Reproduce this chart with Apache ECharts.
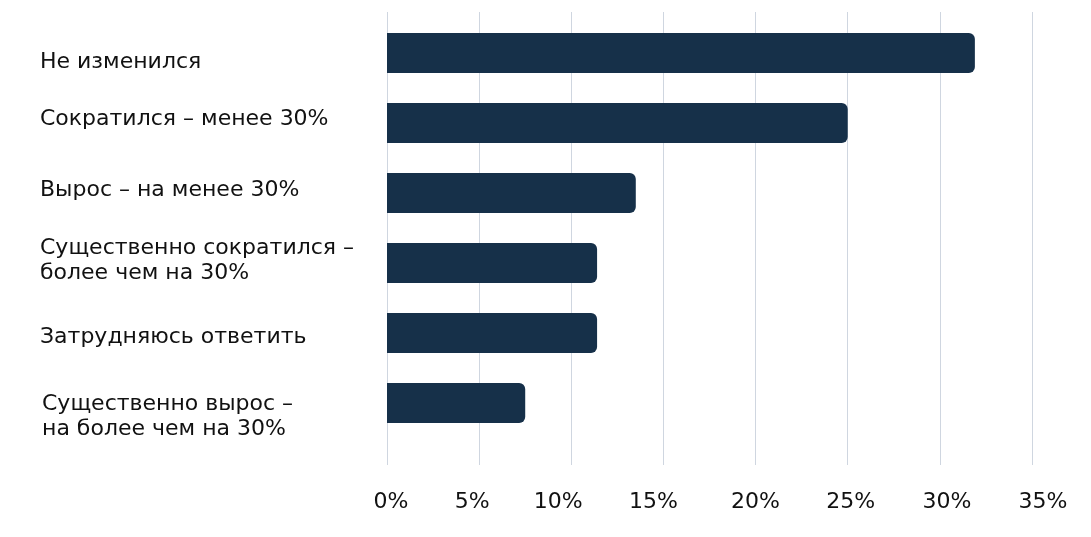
<!DOCTYPE html>
<html>
<head>
<meta charset="utf-8">
<script src="https://cdn.jsdelivr.net/npm/echarts@6/dist/echarts.min.js"></script>
<style>
html,body{margin:0;padding:0;background:#fff;}
#chart{width:1091px;height:537px;}
</style>
</head>
<body>
<div id="chart"></div>
<script>
const categories = [
  'Не изменился',
  'Сократился – менее 30%',
  'Вырос – на менее 30%',
  'Существенно сократился –\nболее чем на 30%',
  'Затрудняюсь ответить',
  'Существенно вырос –\nна более чем на 30%'
];
const values = [31.9, 25.0, 13.5, 11.4, 11.4, 7.5];
const tickLabels = ['0%', '5%', '10%', '15%', '20%', '25%', '30%', '35%'];

// styling: small per-label nudges (px) seen in the reference layout
const yLabelShiftY = [9, -4, -2.5, -2.5, 4.5, 14];
const yLabelShiftX = [0, 0, 0, 0, 0, 2];
const xLabelShiftX = [4, -7, -13, -10, 0, 3, 7, 11];

const yRich = {};
yLabelShiftY.forEach((d, i) => {
  yRich['l' + i] = {
    fontSize: 22, lineHeight: 25, color: '#111', fontFamily: 'DejaVu Sans',
    padding: [d > 0 ? 2 * d : 0, 0, d < 0 ? -2 * d : 0, yLabelShiftX[i]]
  };
});
const xRich = {};
xLabelShiftX.forEach((d, i) => {
  xRich['t' + i] = {
    fontSize: 22, color: '#111', fontFamily: 'DejaVu Sans',
    padding: [0, d < 0 ? -2 * d : 0, 0, d > 0 ? 2 * d : 0]
  };
});

const chart = echarts.init(document.getElementById('chart'));
chart.setOption({
  animation: false,
  backgroundColor: '#ffffff',
  grid: [
    { left: 387, right: 59, top: 12, bottom: 72 },
    { left: 387, right: 59, top: 18, height: 420 }
  ],
  xAxis: [
    {
      gridIndex: 0, type: 'value', min: 0, max: 35, interval: 5,
      axisLine: { show: false }, axisTick: { show: false },
      splitLine: { show: true, lineStyle: { color: '#cfd6e0', width: 1 } },
      axisLabel: {
        margin: 26, fontSize: 22, color: '#111', fontFamily: 'DejaVu Sans',
        formatter: (v) => { const i = Math.round(v / 5); return '{t' + i + '|' + tickLabels[i] + '}'; },
        rich: xRich
      }
    },
    {
      gridIndex: 1, type: 'value', min: 0, max: 35, interval: 5,
      show: false, splitLine: { show: false }
    }
  ],
  yAxis: [
    { gridIndex: 0, type: 'category', data: [''], show: false },
    {
      gridIndex: 1, type: 'category', data: categories, inverse: true,
      axisLine: { show: false }, axisTick: { show: false },
      axisLabel: {
        align: 'left', margin: 347, fontSize: 22, lineHeight: 25,
        color: '#111', fontFamily: 'DejaVu Sans',
        formatter: (v, i) => '{l' + i + '|' + v + '}',
        rich: yRich
      }
    }
  ],
  series: [{
    type: 'bar', xAxisIndex: 1, yAxisIndex: 1,
    data: values, barWidth: 40,
    itemStyle: { color: '#163049', borderRadius: [0, 6, 6, 0] }
  }]
});
</script>
</body>
</html>
